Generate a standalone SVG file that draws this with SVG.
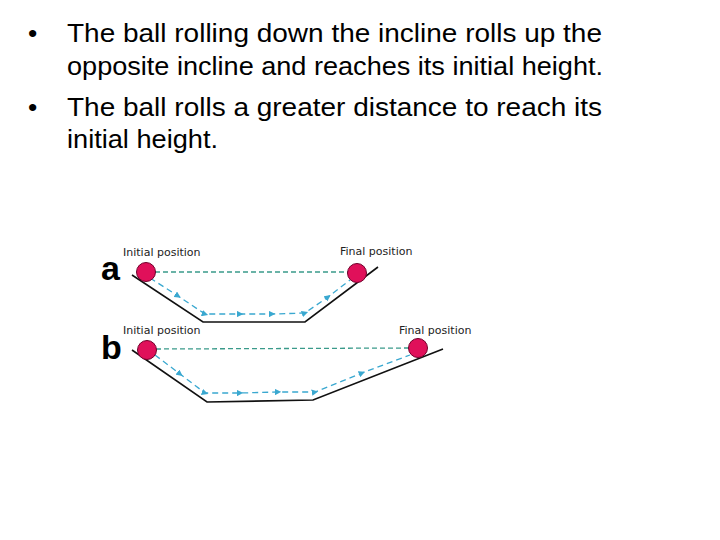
<svg xmlns="http://www.w3.org/2000/svg" width="720" height="540" viewBox="0 0 720 540">
<defs>
<style>
.t{font-family:"Liberation Sans",Arial,sans-serif;font-size:26.5px;fill:#000}
.lbl{font-family:"DejaVu Sans",sans-serif;font-size:11px;fill:#222}
.big{font-family:"Liberation Sans",Arial,sans-serif;font-size:34px;font-weight:bold;fill:#000}
.track{fill:none;stroke:#111;stroke-width:1.6}
.lev{fill:none;stroke:#3a9a8a;stroke-width:1.3;stroke-dasharray:5 3}
.path{fill:none;stroke:#3aa8d0;stroke-width:1.3;stroke-dasharray:6 4;marker-mid:url(#ar)}
.ball{fill:#e0105a;stroke:#70002a;stroke-width:1}
</style>
<marker id="ar" viewBox="0 0 10 10" refX="5" refY="5" markerWidth="5" markerHeight="5" orient="auto"><path d="M0,0L10,5L0,10z" fill="#3aa8d0"/></marker>
</defs>
<g id="text">
<text class="t" x="28" y="42">•</text>
<text class="t" x="67" y="42" textLength="535" lengthAdjust="spacingAndGlyphs">The ball rolling down the incline rolls up the</text>
<text class="t" x="67" y="75" textLength="536" lengthAdjust="spacingAndGlyphs">opposite incline and reaches its initial height.</text>
<text class="t" x="28" y="116">•</text>
<text class="t" x="67" y="116" textLength="535" lengthAdjust="spacingAndGlyphs">The ball rolls a greater distance to reach its</text>
<text class="t" x="67" y="148" textLength="151" lengthAdjust="spacingAndGlyphs">initial height.</text>
</g>
<g id="diagram-a">
<text class="big" x="101" y="280">a</text>
<text class="lbl" x="123" y="256">Initial position</text>
<text class="lbl" x="340" y="255">Final position</text>
<path class="track" d="M132,275 L203,322 L305,322 L378,267"/>
<path class="lev" d="M155,272 L350,272"/>
<path class="path" d="M150,278 L178,296 L205,314 L240,314 L272,314 L305,313 L328,297 L350,280"/>
<circle class="ball" cx="146" cy="272" r="9.5"/>
<circle class="ball" cx="357" cy="273" r="9.5"/>
</g>
<g id="diagram-b">
<text class="big" x="101" y="359">b</text>
<text class="lbl" x="123" y="334">Initial position</text>
<text class="lbl" x="399" y="334">Final position</text>
<path class="track" d="M132,350 L207,402 L313,400 L443,349"/>
<path class="lev" d="M156,349 L410,348"/>
<path class="path" d="M155,355 L180,374 L205,393 L240,393 L278,392 L315,392 L362,373 L410,355"/>
<circle class="ball" cx="147" cy="350" r="9.5"/>
<circle class="ball" cx="418" cy="348" r="9.5"/>
</g>
</svg>
